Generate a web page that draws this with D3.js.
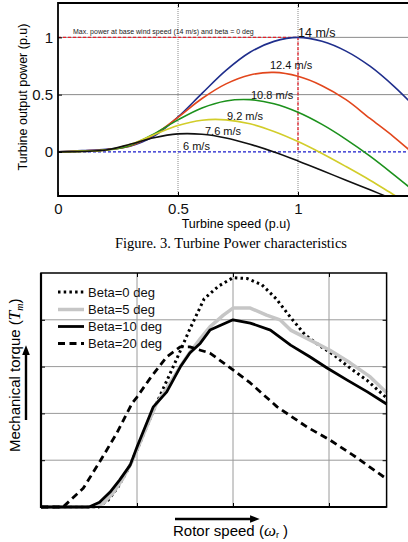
<!DOCTYPE html>
<html lang='en'>
  <head>
    <meta charset='utf-8'>
    <title>Turbine Power characteristics</title>
    <script src='https://d3js.org/d3.v7.min.js'></script>
    <style>
      html, body { margin: 0; padding: 0; background: #fff; }
      svg { display: block; font-family: 'Liberation Sans', Arial, sans-serif; }
    </style>
  </head>
  <body>
    <div class='vis'></div>
    <script>
      // ---- top chart data (turbine speed p.u vs output power p.u) ----
      const turbineSpeed = [0, 0.1, 0.2, 0.3, 0.4, 0.5, 0.6, 0.7, 0.8, 0.9, 1.0, 1.1, 1.2, 1.3, 1.4, 1.5];
      const power14  = [0, 0.011, 0.023, 0.05, 0.138, 0.305, 0.511, 0.712, 0.87, 0.965, 1.0, 0.966, 0.88, 0.748, 0.572, 0.365];
      const power124 = [0, 0.009, 0.019, 0.052, 0.151, 0.302, 0.466, 0.594, 0.672, 0.694, 0.66, 0.578, 0.456, 0.292, 0.13, -0.05];
      const power108 = [0, 0.007, 0.016, 0.057, 0.157, 0.28, 0.384, 0.445, 0.456, 0.42, 0.346, 0.24, 0.11, -0.037, -0.2, -0.37];
      const power92  = [0, 0.005, 0.015, 0.064, 0.15, 0.231, 0.277, 0.28, 0.245, 0.178, 0.09, -0.014, -0.128, -0.247, -0.375, -0.5];
      const power76  = [0, 0.003, 0.016, 0.066, 0.124, 0.157, 0.154, 0.122, 0.067, -0.001, -0.079, -0.162, -0.248, -0.331, -0.415, -0.49];
      const windLabels = ['14 m/s', '12.4 m/s', '10.8 m/s', '9.2 m/s', '7.6 m/s', '6 m/s'];
      const powerTicksX = [0, 0.5, 1];
      const powerTicksY = [0, 0.5, 1];

      // ---- bottom chart data (rotor speed vs mechanical torque, grid units) ----
      const beta0  = [[0,0],[0.6,0],[0.7,0.15],[0.8,0.42],[0.9,0.78],[1.0,1.22],[1.2,2.2],[1.4,3.1],[1.55,3.8],[1.7,4.45],[1.85,4.72],[2.0,4.9],[2.15,4.88],[2.3,4.75],[2.45,4.45],[2.6,4.05],[2.75,3.68],[2.9,3.45],[3.05,3.25],[3.2,3.0],[3.4,2.7],[3.6,2.33]];
      const beta5  = [[0,0],[0.55,0],[0.65,0.08],[0.75,0.3],[0.85,0.6],[0.95,0.98],[1.0,1.22],[1.2,2.2],[1.3,2.5],[1.45,3.0],[1.55,3.3],[1.66,3.6],[1.76,3.85],[1.9,4.1],[2.0,4.25],[2.18,4.25],[2.35,4.1],[2.49,4.0],[2.6,3.78],[2.8,3.57],[3.01,3.35],[3.22,3.08],[3.43,2.78],[3.6,2.44]];
      const beta10 = [[0,0],[0.5,0],[0.61,0.1],[0.72,0.32],[0.82,0.58],[0.93,0.9],[1.0,1.28],[1.17,2.14],[1.31,2.46],[1.45,2.99],[1.55,3.29],[1.66,3.5],[1.76,3.78],[2.0,4.0],[2.18,3.93],[2.39,3.78],[2.6,3.46],[2.8,3.21],[2.98,2.97],[3.19,2.71],[3.4,2.46],[3.6,2.2]];
      const beta20 = [[0,0],[0.23,0],[0.44,0.4],[0.61,0.96],[0.79,1.58],[0.95,2.22],[1.0,2.35],[1.14,2.76],[1.31,3.21],[1.45,3.42],[1.55,3.42],[1.66,3.35],[1.76,3.29],[2.0,2.93],[2.18,2.65],[2.46,2.14],[2.77,1.71],[3.01,1.43],[3.25,1.11],[3.6,0.6]];
      const betaLabels = ['Beta=0 deg', 'Beta=5 deg', 'Beta=10 deg', 'Beta=20 deg'];
      const torqueGridX = [1, 2, 3];
      const torqueGridY = [1, 2, 3, 4];

      const svg = d3.select('.vis')
        .append('svg')
          .attr('width', 408)
          .attr('height', 542);

      // ================= top chart =================
      const x1 = d3.scaleLinear().domain([0, 1.5]).range([58, 418]);
      const y1 = d3.scaleLinear().domain([-0.385, 1.3]).range([196, 3]);

      svg.append('clipPath').attr('id', 'clipTop')
        .append('rect').attr('x', 58).attr('y', 3).attr('width', 350).attr('height', 193);

      const powerChart = svg.append('g');

      // grid
      powerChart.selectAll('.hgrid').data([0.5, 1]).enter().append('line')
        .attr('x1', 58).attr('x2', 408)
        .attr('y1', (d) => y1(d)).attr('y2', (d) => y1(d))
        .attr('stroke', '#8a8a8a').attr('stroke-width', 1);
      powerChart.selectAll('.vgrid').data([0.5, 1]).enter().append('line')
        .attr('x1', (d) => x1(d)).attr('x2', (d) => x1(d))
        .attr('y1', 3).attr('y2', 196)
        .attr('stroke', '#8a8a8a').attr('stroke-width', 1)
        .attr('stroke-dasharray', '1,1');

      // reference lines
      powerChart.append('line')
        .attr('x1', x1(0)).attr('x2', x1(1)).attr('y1', y1(1)).attr('y2', y1(1))
        .attr('stroke', '#e8202a').attr('stroke-width', 1.3).attr('stroke-dasharray', '3,2');
      powerChart.append('line')
        .attr('x1', x1(1)).attr('x2', x1(1)).attr('y1', y1(1)).attr('y2', y1(0))
        .attr('stroke', '#e8202a').attr('stroke-width', 1.3).attr('stroke-dasharray', '3,2');
      powerChart.append('line')
        .attr('x1', 58).attr('x2', 408).attr('y1', y1(0)).attr('y2', y1(0))
        .attr('stroke', '#1a1acc').attr('stroke-width', 1.3).attr('stroke-dasharray', '3,2');

      // power curves
      const powerSeries = [
        {values: power14, color: '#1f2e8c'},
        {values: power124, color: '#e2461c'},
        {values: power108, color: '#1c911c'},
        {values: power92, color: '#d2cd2a'},
        {values: power76, color: '#111111'}
      ];
      const powerLine = d3.line()
        .x((d, i) => x1(turbineSpeed[i]))
        .y((d) => y1(d))
        .curve(d3.curveCatmullRom.alpha(0.5));
      powerChart.append('g').attr('clip-path', 'url(#clipTop)')
        .selectAll('path').data(powerSeries).enter().append('path')
          .attr('d', (d) => powerLine(d.values))
          .attr('fill', 'none')
          .attr('stroke', (d) => d.color)
          .attr('stroke-width', 1.6);

      // curve labels
      const labelPos = [[298, 37, 12.5], [270, 69, 11], [251, 99, 11], [227, 120, 11], [205, 135, 11], [183, 149.5, 11]];
      powerChart.selectAll('.wl').data(windLabels).enter().append('text')
        .attr('x', (d, i) => labelPos[i][0])
        .attr('y', (d, i) => labelPos[i][1])
        .style('font-size', (d, i) => labelPos[i][2] + 'px')
        .attr('fill', '#111')
        .text((d) => d);
      powerChart.append('text')
        .attr('x', 73).attr('y', 33.5)
        .style('font-size', '7px')
        .attr('fill', '#222')
        .text('Max. power at base wind speed (14 m/s) and beta = 0 deg');

      // axes
      const xAxis1 = d3.axisBottom(x1).tickValues(powerTicksX).tickSize(-4).tickPadding(7)
        .tickFormat(d3.format('~g'));
      powerChart.append('g').attr('transform', 'translate(0,196)').call(xAxis1)
        .call((g) => g.select('.domain').remove())
        .call((g) => g.selectAll('text').style('font-size', '15px').attr('fill', '#111').style('font-family', 'Liberation Sans, Arial'));
      powerChart.append('g').attr('transform', 'translate(0,3)')
        .call(d3.axisTop(x1).tickValues([0.5, 1]).tickSize(-4).tickFormat(''))
        .call((g) => g.select('.domain').remove());
      const yAxis1 = d3.axisLeft(y1).tickValues(powerTicksY).tickSize(-4).tickPadding(5)
        .tickFormat(d3.format('~g'));
      powerChart.append('g').attr('transform', 'translate(58,0)').call(yAxis1)
        .call((g) => g.select('.domain').remove())
        .call((g) => g.selectAll('text').style('font-size', '15px').attr('fill', '#111').style('font-family', 'Liberation Sans, Arial'));

      // borders
      powerChart.append('path').attr('d', 'M408,3H58V196H408')
        .attr('fill', 'none').attr('stroke', '#000').attr('stroke-width', 1.8);

      powerChart.append('text')
        .attr('x', 236).attr('y', 228)
        .attr('text-anchor', 'middle')
        .style('font-size', '12.5px')
        .text('Turbine speed (p.u)');
      powerChart.append('text')
        .attr('transform', 'translate(27,97) rotate(-90)')
        .attr('text-anchor', 'middle')
        .style('font-size', '12.5px')
        .text('Turbine output power (p.u)');

      svg.append('text')
        .attr('x', 231).attr('y', 248)
        .attr('text-anchor', 'middle')
        .style('font-family', 'Liberation Serif, Times New Roman, serif')
        .style('font-size', '14.5px')
        .text('Figure. 3. Turbine Power characteristics');

      // ================= bottom chart =================
      const x2 = d3.scaleLinear().domain([0, 3.6]).range([41, 386.6]);
      const y2 = d3.scaleLinear().domain([0, 5]).range([507, 273]);
      const torqueChart = svg.append('g');

      torqueChart.selectAll('.vg').data(torqueGridX).enter().append('line')
        .attr('x1', (d) => x2(d)).attr('x2', (d) => x2(d))
        .attr('y1', y2(0)).attr('y2', y2(5))
        .attr('stroke', '#9a9a9a').attr('stroke-width', 1);
      torqueChart.selectAll('.hg').data(torqueGridY).enter().append('line')
        .attr('x1', x2(0)).attr('x2', x2(3.6))
        .attr('y1', (d) => y2(d)).attr('y2', (d) => y2(d))
        .attr('stroke', '#9a9a9a').attr('stroke-width', 1);

      // inner ticks
      torqueChart.append('g').attr('transform', 'translate(0,507)')
        .call(d3.axisBottom(x2).tickValues(torqueGridX).tickSize(-4).tickFormat(''))
        .call((g) => g.select('.domain').remove());
      torqueChart.append('g').attr('transform', 'translate(0,273)')
        .call(d3.axisTop(x2).tickValues(torqueGridX).tickSize(-4).tickFormat(''))
        .call((g) => g.select('.domain').remove());
      torqueChart.append('g').attr('transform', 'translate(386.6,0)')
        .call(d3.axisRight(y2).tickValues(torqueGridY).tickSize(-4).tickFormat(''))
        .call((g) => g.select('.domain').remove());
      torqueChart.append('g').attr('transform', 'translate(41,0)')
        .call(d3.axisLeft(y2).tickValues(torqueGridY).tickSize(-4).tickFormat(''))
        .call((g) => g.select('.domain').remove());

      const torqueSeries = [
        {values: beta0, color: '#000', width: 3, dash: '2.5,3.2'},
        {values: beta5, color: '#c6c6c6', width: 3.5, dash: null},
        {values: beta10, color: '#000', width: 2.8, dash: null},
        {values: beta20, color: '#000', width: 2.8, dash: '7,4.5'}
      ];
      const torqueLine = d3.line()
        .x((d) => x2(d[0]))
        .y((d) => y2(d[1]));
      torqueChart.selectAll('.tc').data(torqueSeries).enter().append('path')
        .attr('d', (d) => torqueLine(d.values))
        .attr('fill', 'none')
        .attr('stroke', (d) => d.color)
        .attr('stroke-width', (d) => d.width)
        .attr('stroke-dasharray', (d) => d.dash)
        .attr('stroke-linejoin', 'round');

      // legend
      const legend = torqueChart.append('g');
      const legendY = [292, 309.5, 326.5, 343.5];
      legend.selectAll('line').data(torqueSeries).enter().append('line')
        .attr('x1', 58).attr('x2', 84)
        .attr('y1', (d, i) => legendY[i]).attr('y2', (d, i) => legendY[i])
        .attr('stroke', (d) => d.color)
        .attr('stroke-width', (d) => d.width)
        .attr('stroke-dasharray', (d) => d.dash);
      legend.selectAll('text').data(betaLabels).enter().append('text')
        .attr('x', 88)
        .attr('y', (d, i) => legendY[i] + 4.6)
        .style('font-size', '13px')
        .attr('fill', '#111')
        .text((d) => d);

      // borders
      torqueChart.append('rect')
        .attr('x', 41).attr('y', 273).attr('width', 345.6).attr('height', 234)
        .attr('fill', 'none').attr('stroke', '#000').attr('stroke-width', 1.5);
      torqueChart.append('path').attr('d', 'M41,273V507H386.6')
        .attr('fill', 'none').attr('stroke', '#000').attr('stroke-width', 2.2);

      // arrows
      svg.append('defs').append('marker')
        .attr('id', 'arrow').attr('viewBox', '0 0 10 10')
        .attr('refX', 2).attr('refY', 5)
        .attr('markerWidth', 4).attr('markerHeight', 4)
        .attr('orient', 'auto')
        .append('path').attr('d', 'M0,1L10,5L0,9Z').attr('fill', '#000');
      svg.append('line')
        .attr('x1', 175).attr('x2', 252).attr('y1', 519).attr('y2', 519)
        .attr('stroke', '#000').attr('stroke-width', 2.4)
        .attr('marker-end', 'url(#arrow)');
      svg.append('line')
        .attr('x1', 26).attr('x2', 26).attr('y1', 420).attr('y2', 353)
        .attr('stroke', '#000').attr('stroke-width', 2.4)
        .attr('marker-end', 'url(#arrow)');

      // axis titles
      const xt = svg.append('text')
        .attr('x', 173).attr('y', 536)
        .style('font-size', '15px');
      xt.append('tspan').text('Rotor speed (');
      xt.append('tspan').style('font-family', 'Liberation Serif, serif').style('font-style', 'italic').style('font-size', '17px').text('ω');
      xt.append('tspan').attr('dy', 2).style('font-size', '9px').text('r');
      xt.append('tspan').attr('dy', -2).text(' )');

      const yt = svg.append('text')
        .attr('transform', 'translate(20,452) rotate(-90)')
        .style('font-size', '15px');
      yt.append('tspan').text('Mechanical torque (');
      yt.append('tspan').style('font-family', 'Liberation Serif, serif').style('font-style', 'italic').style('font-size', '17px').text('T');
      yt.append('tspan').attr('dy', 3).style('font-family', 'Liberation Serif, serif').style('font-style', 'italic').style('font-size', '10px').text('m');
      yt.append('tspan').attr('dy', -3).text(')');
    </script>
  </body>
</html>
